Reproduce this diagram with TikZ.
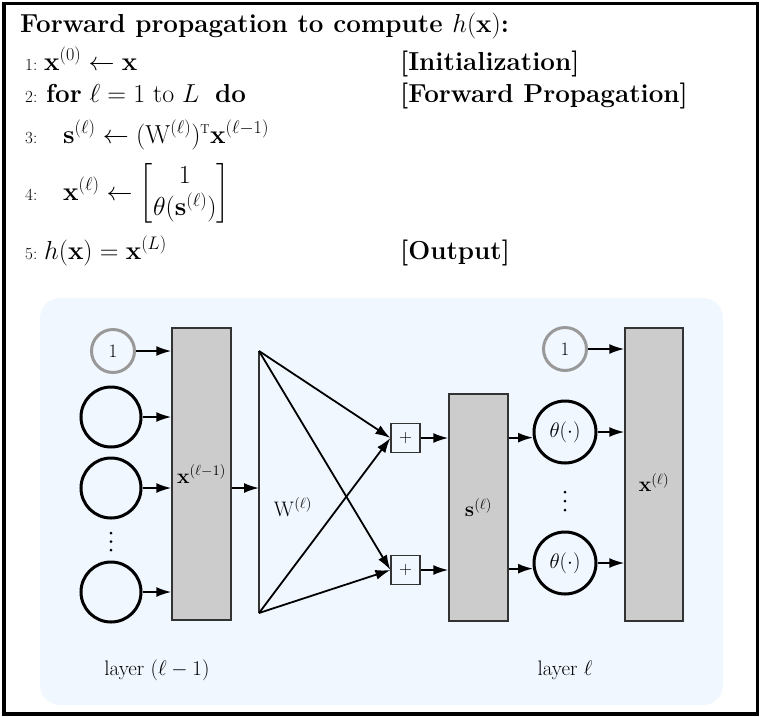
\RequirePackage{fix-cm}
\documentclass[tikz,border=0pt]{standalone}
\usepackage{amsmath}
\usepackage{xcolor}
\usetikzlibrary{arrows.meta}
\definecolor{panelbg}{RGB}{240,247,255}

\begin{document}
\begin{tikzpicture}[x=1pt,y=-1pt,
  txt/.style={anchor=base west, inner sep=0pt, font=\fontsize{26}{30}\selectfont},
  num/.style={anchor=base west, inner sep=0pt, font=\fontsize{17}{20}\selectfont},
  lbl/.style={font=\fontsize{21}{25}\selectfont},
  dot/.style={circle, fill=black, inner sep=0pt, minimum size=3pt},
  vec/.style={draw=black!80, fill=black!20, line width=1.5pt, minimum width=59pt, inner sep=0pt, font=\fontsize{21}{25}\selectfont},
  unit/.style={circle, draw, line width=3pt, minimum size=60pt, inner sep=0pt, font=\fontsize{21}{25}\selectfont},
  bias/.style={circle, draw=black!40, line width=3pt, minimum size=43pt, inner sep=0pt, font=\fontsize{19}{22}\selectfont},
  sumbox/.style={draw=black!80, line width=1.2pt, minimum size=29pt, inner sep=0pt, font=\fontsize{18}{21}\selectfont},
  feed/.style={-{Latex[length=15pt,width=10pt]}, line width=1.8pt}
]
\useasboundingbox (0,0) rectangle (763,716);
\draw[line width=3.5pt] (4,3.5) rectangle (757.5,714);
\fill[panelbg, rounded corners=20pt] (40,298) rectangle (723,705);

% algorithm
\node[txt] (title) at (20,32) {\bfseries Forward propagation to compute $h(\mathbf{x})$:};
\foreach \k/\y in {1/70,2/102,3/143,4/200,5/259}
  \node[num] (no\k) at (25,\y) {\k:};
\node[txt] (ln1) at (44,70) {$\mathbf{x}^{(0)} \leftarrow \mathbf{x}$};
\node[txt] (ln2) at (46,102) {\textbf{for} $\ell = 1$ to $L$ \ \textbf{do}};
\node[txt] (ln3) at (63,143) {$\mathbf{s}^{(\ell)} \leftarrow (\mathrm{W}^{(\ell)})^{\scriptscriptstyle\mathrm{T}}\mathbf{x}^{(\ell-1)}$};
\node[txt] (ln4) at (63,200) {$\mathbf{x}^{(\ell)} \leftarrow \begin{bmatrix} 1\\ \theta(\mathbf{s}^{(\ell)}) \end{bmatrix}$};
\node[txt] (ln5) at (44,259) {$h(\mathbf{x}) = \mathbf{x}^{(L)}$};
\foreach \k/\y/\c in {1/70/Initialization,2/102/Forward Propagation,5/259/Output}
  \node[txt] (cm\k) at (400,\y) {\bfseries [\c]};

% layer l-1
\node[bias] (b0) at (113,351) {1};
\foreach \n/\y in {1/417,2/488,3/592}
  \node[unit] (u\n) at (111,\y) {};
\foreach \k/\y in {1/533,2/541.5,3/550}
  \node[dot] (ud\k) at (111,\y) {};
\node[vec, minimum height=292pt] (xprev) at (201.5,474) {$\mathbf{x}^{(\ell-1)}$};
\foreach \a in {b0,u1,u2,u3}
  \draw[feed] (\a) -- (xprev.west |- \a);

% weights
\coordinate (wt) at (259,351);
\coordinate (wm) at (259,488);
\coordinate (wb) at (259,613);
\draw[black!80, line width=1.8pt] (wt) -- (wb);
\node[lbl] (wlab) at (293,507) {$\mathrm{W}^{(\ell)}$};
\draw[feed] (xprev.east |- wm) -- (wm);
\node[sumbox] (p1) at (405.5,438) {$+$};
\node[sumbox] (p2) at (405.5,570) {$+$};
\foreach \a in {wt,wb} \foreach \b in {p1,p2}
  \draw[feed] (\a) -- (\b.west);

% layer l
\node[vec, minimum height=227pt] (s) at (478.5,507.5) {$\mathbf{s}^{(\ell)}$};
\foreach \b in {p1,p2}
  \draw[feed] (\b) -- (s.west |- \b);
\node[unit, minimum size=62pt] (t1) at (565,432) {$\theta(\cdot)$};
\node[unit, minimum size=62pt] (t2) at (565,563) {$\theta(\cdot)$};
\foreach \k/\y in {1/492,2/501,3/510}
  \node[dot] (td\k) at (565,\y) {};
\node[bias] (b1) at (565,349) {1};
\node[vec, minimum width=58pt, minimum height=293pt,
  label={[lbl, yshift=-8pt]center:$\mathbf{x}^{(\ell)}$}] (xcur) at (654,474.5) {};
\foreach \t in {t1,t2} {
  \draw[feed] (s.east |- \t.190) -- (\t.190);
  \draw[feed] (\t) -- (xcur.west |- \t);
}
\draw[feed] (b1) -- (xcur.west |- b1);

\node[lbl] (lay0) at (157,670) {layer $(\ell-1)$};
\node[lbl] (lay1) at (565,670) {layer $\ell$};
\end{tikzpicture}
\end{document}
